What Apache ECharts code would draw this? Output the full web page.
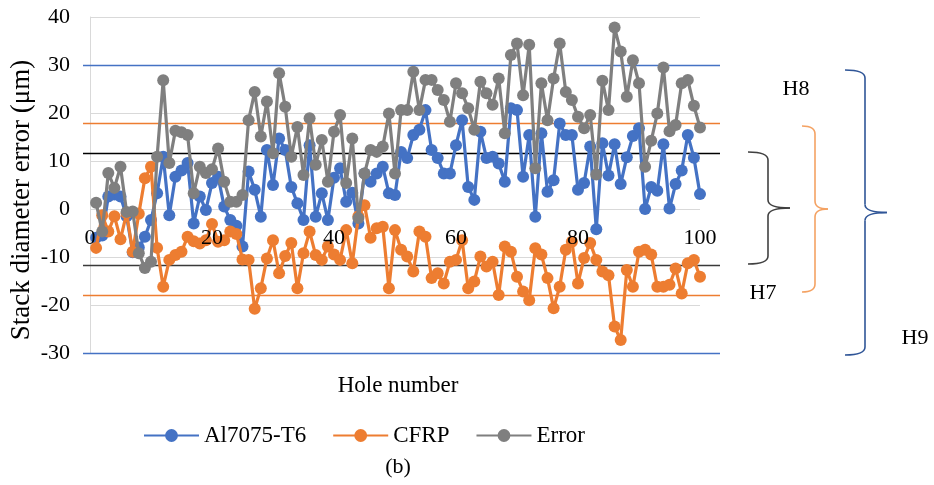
<!DOCTYPE html>
<html>
<head>
<meta charset="utf-8">
<script src="https://cdn.jsdelivr.net/npm/echarts@6/dist/echarts.min.js"></script>
<style>
html,body{margin:0;padding:0;background:#fff;}
#chart{width:934px;height:485px;}
</style>
</head>
<body>
<div id="chart"></div>
<script>
// Hole numbers 1..100 (x categories)
const holes = Array.from({length: 100}, (_, i) => i + 1);

const al7075 = [
  -6, -5.5, 2.6, 3, 2.6, -1.5, -9, -8, -5.8, -2.3,
  3.3, 10.9, -1.3, 6.7, 8, 9.6, -3, 2.6, -0.2, 5.4,
  6.7, 0.5, -2.3, -3.5, -7.8, 7.8, 4, -1.6, 12.3, 5,
  14.7, 12.3, 4.6, 1.2, -2.3, 13.3, -1.6, 3.3, -2.3, 6.5,
  8.5, 1.5, 3.4, -3, 7.4, 5.7, 7.4, 8.8, 3.3, 2.9,
  11.9, 10.6, 15.4, 16.5, 20.6, 12.3, 10.6, 7.4, 7.4, 13.3,
  18.5, 4.6, 1.9, 16.1, 10.6, 10.9, 9.5, 5.7, 21, 20.6,
  6.7, 15.4, -1.6, 15.8, 3.6, 6, 17.8, 15.4, 15.4, 4,
  5.4, 13, -4.2, 13.7, 7, 13.5, 5.2, 10.8, 15.2, 16.8,
  0, 4.6, 3.8, 13.5, 0.1, 5.2, 8, 15.4, 10.7, 3.1
];

const cfrp = [
  -8.1, -1.3, -4.7, -1.5, -6.3, -0.9, -8.9, -1, 6.4, 8.8,
  -8.1, -16.2, -10.6, -9.6, -8.9, -5.8, -6.7, -7.2, -6.5, -3.1,
  -6.8, -6.5, -4.7, -5.2, -10.5, -10.6, -20.8, -16.5, -10.3, -6.5,
  -13.4, -9.8, -7.1, -16.5, -9.2, -4.7, -9.6, -10.6, -7.8, -9.5,
  -10.6, -4.4, -11.3, -1.5, 0.8, -6, -4, -3.7, -16.5, -4.4,
  -8.5, -9.9, -13, -4.7, -5.8, -14.4, -13.4, -15.5, -11, -10.6,
  -6.5, -16.5, -15.1, -9.9, -12, -11, -17.9, -7.8, -8.9, -14.1,
  -17.2, -19, -8.2, -9.5, -14.4, -20.7, -16.2, -8.5, -6.8, -15.5,
  -10.2, -7.1, -10.6, -13, -13.8, -24.5, -27.3, -12.7, -16.2, -8.9,
  -8.5, -9.5, -16.2, -16.2, -15.8, -12.4, -17.6, -11.3, -10.6, -14.1
];

const errorVals = [
  1.3, -4.7, 7.5, 4.4, 8.8, -0.6, -0.5, -9.2, -12.3, -11,
  10.9, 26.8, 9.6, 16.3, 16, 15.4, 3.3, 8.8, 7.5, 8.3,
  12.6, 5.7, 1.5, 1.5, 2.9, 18.5, 24.4, 15.1, 22.4, 11.6,
  28.3, 21.3, 10.9, 17.1, 7.1, 18.9, 9.2, 14.4, 5.7, 16.1,
  19.6, 5.4, 14.7, -1.9, 7.4, 12.3, 11.9, 13, 19.9, 7.4,
  20.6, 20.6, 28.6, 20.6, 26.9, 26.9, 24.8, 22.7, 18.2, 26.2,
  24.1, 21, 16.5, 26.5, 24.1, 21.7, 27.2, 15.8, 32.1, 34.5,
  23.7, 34.2, 8.5, 26.2, 18.5, 27.2, 34.5, 24.4, 22.7, 19.2,
  16.8, 19.6, 7.2, 26.7, 20.6, 37.8, 32.8, 23.4, 31, 26.2,
  8.8, 14.2, 19.9, 29.5, 16.2, 17.5, 26.2, 26.9, 21.5, 17
];

// Tolerance limits (µm): H7, H8, H9
const limitH7 = 11.7;
const limitH8 = 17.9;
const limitH9 = 30;

const seriesNames = ['Al7075-T6', 'CFRP', 'Error'];
const seriesColors = ['#4472C4', '#ED7D31', '#7F7F7F'];
const seriesData = [al7075, cfrp, errorVals];

const FONT = 'Liberation Serif';
const Y_MIN = -30, Y_MAX = 40;
const GRID = {left: 90, right: 234, top: 17, bottom: 132};
const gridH = 485 - GRID.top - GRID.bottom;

const chart = echarts.init(document.getElementById('chart'), null, {renderer: 'canvas'});

const option = {
  animation: false,
  backgroundColor: '#fff',
  grid: Object.assign({containLabel: false, outerBoundsMode: 'none'}, GRID),
  xAxis: {
    type: 'value', min: 0, max: 100, interval: 20,
    position: 'bottom',
    z: 20,
    // put the axis labels on the zero line of the y axis
    offset: -Math.round(gridH * (0 - Y_MIN) / (Y_MAX - Y_MIN)),
    axisLine: {show: false, onZero: false},
    axisTick: {show: false},
    splitLine: {show: false},
    axisLabel: {fontFamily: FONT, fontSize: 22, color: '#000', margin: 18}
  },
  yAxis: {
    type: 'value', min: Y_MIN, max: Y_MAX, interval: 10,
    axisLine: {show: true, lineStyle: {color: '#d9d9d9', width: 1}},
    axisTick: {show: false},
    splitLine: {show: true, lineStyle: {color: '#d9d9d9', width: 1}},
    axisLabel: {fontFamily: FONT, fontSize: 22, color: '#000', margin: 20}
  },
  legend: {
    left: 138, top: 419,
    itemWidth: 55, itemHeight: 16, itemGap: 26,
    textStyle: {fontFamily: FONT, fontSize: 23, color: '#000'},
    data: seriesNames
  },
  series: seriesNames.map((name, k) => ({
    name: name,
    type: 'line',
    data: holes.map((h, i) => [h, seriesData[k][i]]),
    symbol: 'circle',
    symbolSize: 12,
    showSymbol: true,
    color: seriesColors[k],
    lineStyle: {width: 3.2, color: seriesColors[k]},
    itemStyle: {color: seriesColors[k]},
    z: 2 + k
  }))
};

chart.setOption(option);

function yPix(v) { return chart.convertToPixel({yAxisIndex: 0}, v); }

const limitLines = [
  {v: limitH9, color: '#4472C4', w: 1.3},
  {v: -limitH9, color: '#4472C4', w: 1.3},
  {v: limitH8, color: '#ED7D31', w: 1.3},
  {v: -limitH8, color: '#ED7D31', w: 1.3},
  {v: limitH7, color: '#000000', w: 1.6},
  {v: -limitH7, color: '#3a3a3a', w: 1.6}
];

const graphics = limitLines.map(l => ({
  type: 'line', silent: true, z: 1,
  shape: {x1: 83, y1: Math.round(yPix(l.v)) + 0.5, x2: 720, y2: Math.round(yPix(l.v)) + 0.5},
  style: {stroke: l.color, lineWidth: l.w}
}));

function brace(top, bottom, left, spine, tip, color) {
  const mid = (top + bottom) / 2;
  const r = 8;
  const st = {stroke: color, fill: null, lineWidth: 1.6};
  const curve = (x1, y1, cx, cy, x2, y2) => ({type: 'bezierCurve', silent: true,
    shape: {x1: x1, y1: y1, cpx1: cx, cpy1: cy, x2: x2, y2: y2}, style: st});
  const seg = (x1, y1, x2, y2) => ({type: 'line', silent: true,
    shape: {x1: x1, y1: y1, x2: x2, y2: y2}, style: st});
  return {
    type: 'group', silent: true, z: 10,
    children: [
      curve(left, top, spine, top, spine, top + r),
      seg(spine, top + r, spine, mid - r),
      curve(spine, mid - r, spine, mid, tip, mid),
      curve(tip, mid, spine, mid, spine, mid + r),
      seg(spine, mid + r, spine, bottom - r),
      curve(spine, bottom - r, spine, bottom, left, bottom)
    ]
  };
}

graphics.push(brace(152, 264, 748, 768, 790, '#404040'));
graphics.push(brace(126, 292, 802, 815, 828, '#F4A263'));
graphics.push(brace(70, 355, 845, 865, 887, '#2F5597'));

const labels = [
  {t: 'H8', x: 796, y: 89, s: 22},
  {t: 'H7', x: 763, y: 293, s: 22},
  {t: 'H9', x: 915, y: 338, s: 22},
  {t: 'Hole number', x: 398, y: 386, s: 23},
  {t: '(b)', x: 398, y: 467, s: 22}
];
labels.forEach(l => graphics.push({
  type: 'text', silent: true, z: 10,
  x: l.x, y: l.y,
  style: {text: l.t, fontFamily: FONT, fontSize: l.s, fill: '#000', align: 'center', verticalAlign: 'middle'}
}));

// Y axis title (rotated)
graphics.push({
  type: 'text', silent: true, z: 10,
  x: 22, y: 200, rotation: Math.PI / 2,
  style: {text: 'Stack diameter error (\u03bcm)', fontFamily: FONT, fontSize: 27, fill: '#000', align: 'center', verticalAlign: 'middle'}
});

chart.setOption({graphic: graphics});
</script>
</body>
</html>
